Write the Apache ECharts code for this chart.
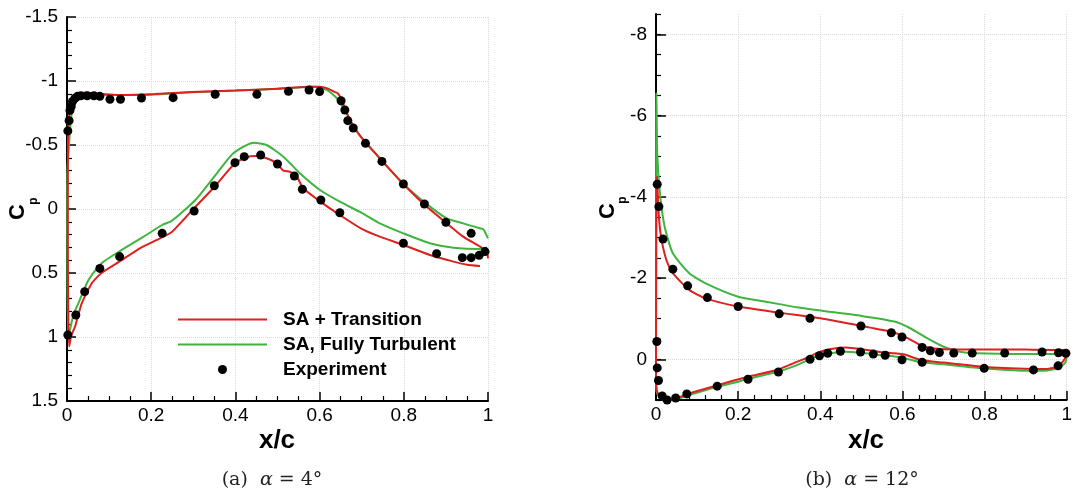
<!DOCTYPE html>
<html>
<head>
<meta charset="utf-8">
<script src="https://cdn.jsdelivr.net/npm/echarts@6/dist/echarts.min.js"></script>
<style>
html,body{margin:0;padding:0;background:#fff;}
#c{width:1075px;height:495px;}
</style>
</head>
<body>
<div id="c"></div>
<script>
// ---------- DATA (x/c, Cp) ----------
const seriesNames = ['SA + Transition', 'SA, Fully Turbulent', 'Experiment'];
const xTicks = [0, 0.2, 0.4, 0.6, 0.8, 1];
const yTicksA = [-1.5, -1, -0.5, 0, 0.5, 1, 1.5];
const yTicksB = [-8, -6, -4, -2, 0];
const captions = ['(a)  {i|α} = 4°', '(b)  {i|α} = 12°'];

// alpha = 4 deg
const a4TransUpper = [[0.005,1.075],[0.003,0.8],[0.002,0.3],[0.002,-0.3],[0.003,-0.62],[0.007,-0.77],[0.015,-0.85],[0.027,-0.89],[0.043,-0.91],[0.074,-0.90],[0.13,-0.89],[0.209,-0.898],[0.296,-0.914],[0.4,-0.925],[0.5,-0.94],[0.58,-0.955],[0.6,-0.955],[0.62,-0.94],[0.634,-0.917],[0.643,-0.904],[0.653,-0.852],[0.66,-0.787],[0.67,-0.71],[0.68,-0.65],[0.7,-0.555],[0.75,-0.37],[0.799,-0.195],[0.85,-0.031],[0.902,0.112],[0.941,0.216],[0.981,0.294],[0.997,0.333],[1.0,0.385]];
const a4TransLower = [[0.005,1.075],[0.01,0.99],[0.019,0.92],[0.035,0.737],[0.059,0.58],[0.082,0.50],[0.13,0.40],[0.173,0.307],[0.221,0.229],[0.249,0.18],[0.296,0.015],[0.352,-0.18],[0.399,-0.357],[0.427,-0.404],[0.447,-0.414],[0.474,-0.396],[0.498,-0.357],[0.514,-0.30],[0.53,-0.29],[0.546,-0.252],[0.561,-0.162],[0.601,-0.06],[0.648,0.047],[0.7,0.155],[0.743,0.216],[0.799,0.281],[0.862,0.359],[0.918,0.411],[0.95,0.435],[0.981,0.445]];
const a4TurbUpper = [[0.003,1.0],[0.001,0.6],[0.0005,0.0],[0.001,-0.3],[0.005,-0.51],[0.01,-0.72],[0.017,-0.81],[0.027,-0.865],[0.05,-0.89],[0.1,-0.89],[0.2,-0.893],[0.296,-0.912],[0.4,-0.925],[0.5,-0.94],[0.586,-0.955],[0.617,-0.93],[0.641,-0.865],[0.66,-0.773],[0.68,-0.65],[0.7,-0.555],[0.75,-0.37],[0.799,-0.195],[0.85,-0.05],[0.902,0.073],[0.941,0.112],[0.981,0.151],[0.989,0.159],[1.0,0.229]];
const a4TurbLower = [[0.003,1.0],[0.007,0.945],[0.015,0.83],[0.027,0.737],[0.051,0.555],[0.082,0.424],[0.13,0.32],[0.18,0.22],[0.226,0.125],[0.25,0.09],[0.305,-0.07],[0.356,-0.279],[0.395,-0.435],[0.443,-0.518],[0.474,-0.50],[0.514,-0.409],[0.553,-0.279],[0.601,-0.148],[0.648,-0.057],[0.7,0.03],[0.743,0.112],[0.799,0.19],[0.862,0.268],[0.918,0.302],[0.981,0.3125],[0.997,0.30]];
const a4ExpUpper = [[0.002,-0.61],[0.005,-0.69],[0.007,-0.77],[0.01,-0.80],[0.013,-0.84],[0.019,-0.865],[0.025,-0.88],[0.033,-0.885],[0.048,-0.885],[0.064,-0.885],[0.078,-0.88],[0.102,-0.857],[0.127,-0.857],[0.177,-0.867],[0.252,-0.87],[0.352,-0.896],[0.451,-0.896],[0.526,-0.919],[0.575,-0.93],[0.600,-0.917],[0.651,-0.846],[0.660,-0.773],[0.667,-0.69],[0.680,-0.633],[0.709,-0.513],[0.748,-0.372],[0.799,-0.195],[0.849,-0.039],[0.900,0.104],[0.960,0.19],[0.993,0.333]];
const a4ExpLower = [[0.002,0.984],[0.021,0.828],[0.042,0.646],[0.078,0.464],[0.125,0.372],[0.226,0.19],[0.302,0.016],[0.350,-0.182],[0.399,-0.362],[0.421,-0.409],[0.460,-0.422],[0.500,-0.352],[0.540,-0.258],[0.559,-0.154],[0.603,-0.07],[0.648,0.029],[0.799,0.268],[0.878,0.349],[0.939,0.380],[0.960,0.380],[0.979,0.362]];

// alpha = 12 deg
const a12TransUpper = [[0.0,0.3],[0.0003,-1.5],[0.0008,-3.2],[0.0015,-4.3],[0.0025,-4.5],[0.0055,-3.76],[0.011,-3.10],[0.025,-2.45],[0.041,-2.12],[0.081,-1.71],[0.121,-1.50],[0.2,-1.30],[0.3,-1.15],[0.343,-1.09],[0.4,-1.01],[0.502,-0.82],[0.573,-0.68],[0.605,-0.56],[0.645,-0.35],[0.676,-0.27],[0.74,-0.245],[0.9,-0.24],[0.994,-0.23],[1.0,-0.08]];
const a12TransLower = [[0.0,0.3],[0.0016,0.76],[0.01,0.92],[0.025,1.0],[0.049,0.96],[0.081,0.84],[0.152,0.63],[0.224,0.43],[0.298,0.25],[0.343,0.06],[0.375,-0.065],[0.39,-0.15],[0.422,-0.25],[0.462,-0.29],[0.502,-0.25],[0.541,-0.19],[0.581,-0.15],[0.605,-0.12],[0.645,0.017],[0.70,0.08],[0.795,0.18],[0.898,0.23],[0.946,0.24],[0.978,0.18],[0.99,0.06],[1.0,-0.08]];
const a12TurbUpper = [[0.0,0.3],[0.0003,-3.0],[0.0005,-6.0],[0.001,-6.55],[0.003,-5.08],[0.0095,-4.09],[0.021,-3.27],[0.041,-2.61],[0.081,-2.12],[0.121,-1.87],[0.2,-1.54],[0.25,-1.45],[0.3,-1.36],[0.343,-1.28],[0.4,-1.2],[0.5,-1.07],[0.581,-0.93],[0.62,-0.76],[0.66,-0.52],[0.70,-0.31],[0.74,-0.19],[0.78,-0.15],[0.9,-0.13],[0.978,-0.13],[0.995,-0.1],[1.0,0.0]];
const a12TurbLower = [[0.0,0.3],[0.0016,0.8],[0.01,0.95],[0.025,1.02],[0.049,0.99],[0.081,0.88],[0.152,0.67],[0.2,0.55],[0.224,0.48],[0.298,0.30],[0.343,0.14],[0.39,-0.07],[0.422,-0.15],[0.462,-0.19],[0.502,-0.16],[0.541,-0.11],[0.581,-0.07],[0.605,-0.03],[0.645,0.07],[0.70,0.12],[0.795,0.22],[0.898,0.28],[0.946,0.28],[0.978,0.22],[0.995,0.10],[1.0,0.0]];
const a12ExpUpper = [[0.003,-4.31],[0.007,-3.76],[0.017,-2.96],[0.041,-2.22],[0.077,-1.81],[0.125,-1.52],[0.2,-1.30],[0.30,-1.12],[0.375,-1.01],[0.499,-0.82],[0.573,-0.655],[0.599,-0.55],[0.648,-0.295],[0.668,-0.21],[0.690,-0.17],[0.725,-0.155],[0.770,-0.155],[0.849,-0.155],[0.94,-0.18],[0.98,-0.163],[0.998,-0.15]];
const a12ExpLower = [[0.002,-0.44],[0.003,0.21],[0.006,0.52],[0.015,0.90],[0.027,1.0],[0.048,0.95],[0.075,0.85],[0.149,0.66],[0.224,0.49],[0.298,0.31],[0.375,0.0],[0.398,-0.09],[0.418,-0.15],[0.449,-0.20],[0.498,-0.18],[0.529,-0.13],[0.558,-0.10],[0.599,0.01],[0.648,0.07],[0.799,0.22],[0.919,0.26],[0.979,0.16]];

// ---------- BUILD ----------
const FONT = "'Liberation Sans', Arial, Helvetica, sans-serif";
const SERIF = "'DejaVu Serif', 'Liberation Serif', serif";
const RED = '#dd2020', GREEN = '#3fb43f';
function loop(upper, lower){ return upper.slice().reverse().concat(lower.slice(1)); }

function xAxisCfg(grid, minorSplit){
  return {
    gridIndex: grid, type:'value', min:0, max:1, interval:0.2,
    axisLine:{onZero:false, lineStyle:{color:'#000', width:2}},
    axisTick:{inside:true, length:9, lineStyle:{color:'#000', width:1.5}},
    minorTick:{show:true, splitNumber:minorSplit, length:5, lineStyle:{color:'#000', width:1.2}},
    axisLabel:{color:'#000', fontSize:19, fontFamily:FONT, margin:5},
    splitLine:{show:true, lineStyle:{type:'dotted', color:'#d9d9d9', width:1}}
  };
}

const chart = echarts.init(document.getElementById('c'), null, {renderer:'canvas'});
const lineBase = {type:'line', symbol:'none', smooth:0.2, lineStyle:{width:2}};
const scatBase = {type:'scatter', symbol:'circle', symbolSize:9, itemStyle:{color:'#000', opacity:1}, clip:false, z:5};
const hiddenSym = {opacity:0, color:'rgba(0,0,0,0)', borderWidth:0};

const option = {
  animation:false,
  backgroundColor:'#fff',
  grid:[
    {left:67, top:17, width:421, height:384},
    {left:656, top:14, width:420, height:386}
  ],
  xAxis:[ xAxisCfg(0,4), xAxisCfg(1,5) ],
  yAxis:[
    {gridIndex:0, type:'value', inverse:true, min:-1.5, max:1.5, interval:0.5,
     axisLine:{onZero:false, lineStyle:{color:'#000', width:2}},
     axisTick:{inside:true, length:9, lineStyle:{color:'#000', width:1.5}},
     minorTick:{show:true, splitNumber:5, length:5, lineStyle:{color:'#000', width:1.2}},
     axisLabel:{color:'#000', fontSize:19, fontFamily:FONT, margin:9},
     splitLine:{show:true, lineStyle:{type:'dotted', color:'#d9d9d9', width:1}}},
    {gridIndex:1, type:'value', position:'left', inverse:true, min:-8.5, max:1, interval:0.5,
     axisLine:{onZero:false, lineStyle:{color:'#000', width:2}},
     axisTick:{inside:true, length:5, lineStyle:{color:'#000', width:1.2}},
     axisLabel:{color:'#000', fontSize:19, fontFamily:FONT, margin:9, customValues:yTicksB},
     splitLine:{show:false}},
    {gridIndex:1, type:'value', position:'left', offset:0, inverse:true, min:-8.5, max:1, interval:0.5,
     axisLine:{show:false, onZero:false},
     axisTick:{inside:true, length:10, customValues:yTicksB, lineStyle:{color:'#000', width:1.5}},
     axisLabel:{show:false},
     splitLine:{show:true, lineStyle:{type:'dotted', color:'#d9d9d9', width:1}}}
  ],
  legend:{
    data:[{name:seriesNames[0], itemStyle:hiddenSym},{name:seriesNames[1], itemStyle:hiddenSym},{name:seriesNames[2], icon:'circle'}],
    orient:'vertical', left:172, top:305, itemWidth:89, itemHeight:9, itemGap:6,
    selectedMode:false,
    textStyle:{fontFamily:FONT, fontWeight:'bold', fontSize:19, color:'#000', padding:[0,0,0,11]}
  },
  series:[
    Object.assign({}, lineBase, {name:seriesNames[1], xAxisIndex:0, yAxisIndex:0, color:GREEN, data:loop(a4TurbUpper, a4TurbLower)}),
    Object.assign({}, lineBase, {name:seriesNames[0], xAxisIndex:0, yAxisIndex:0, color:RED, data:loop(a4TransUpper, a4TransLower)}),
    Object.assign({}, scatBase, {name:seriesNames[2], xAxisIndex:0, yAxisIndex:0, data:a4ExpUpper.concat(a4ExpLower)}),
    Object.assign({}, lineBase, {name:seriesNames[1], xAxisIndex:1, yAxisIndex:1, color:GREEN, data:loop(a12TurbUpper, a12TurbLower)}),
    Object.assign({}, lineBase, {name:seriesNames[0], xAxisIndex:1, yAxisIndex:1, color:RED, data:loop(a12TransUpper, a12TransLower)}),
    Object.assign({}, scatBase, {name:seriesNames[2], xAxisIndex:1, yAxisIndex:1, data:a12ExpUpper.concat(a12ExpLower)})
  ],
  graphic:[
    {type:'text', x:277, y:441, style:{text:'x/c', font:"bold 26px "+FONT, fill:'#000', align:'center', verticalAlign:'middle'}},
    {type:'text', x:866, y:441, style:{text:'x/c', font:"bold 26px "+FONT, fill:'#000', align:'center', verticalAlign:'middle'}},
    {type:'text', x:18, y:212, rotation:Math.PI/2, style:{text:'C', font:"bold 22px "+FONT, fill:'#000', align:'center', verticalAlign:'middle'}},
    {type:'text', x:34, y:201, rotation:Math.PI/2, style:{text:'p', font:"bold 12px "+FONT, fill:'#000', align:'center', verticalAlign:'middle'}},
    {type:'text', x:608, y:211, rotation:Math.PI/2, style:{text:'C', font:"bold 22px "+FONT, fill:'#000', align:'center', verticalAlign:'middle'}},
    {type:'text', x:623, y:200, rotation:Math.PI/2, style:{text:'p', font:"bold 12px "+FONT, fill:'#000', align:'center', verticalAlign:'middle'}},
    {type:'text', x:272, y:480, style:{text:captions[0], font:"19px "+SERIF, fill:'#222', align:'center', verticalAlign:'middle',
      rich:{i:{fontStyle:'italic', fontFamily:SERIF, fontSize:19, fill:'#222'}}}},
    {type:'text', x:862, y:480, style:{text:captions[1], font:"19px "+SERIF, fill:'#222', align:'center', verticalAlign:'middle',
      rich:{i:{fontStyle:'italic', fontFamily:SERIF, fontSize:19, fill:'#222'}}}}
  ]
};
chart.setOption(option);
</script>
</body>
</html>
